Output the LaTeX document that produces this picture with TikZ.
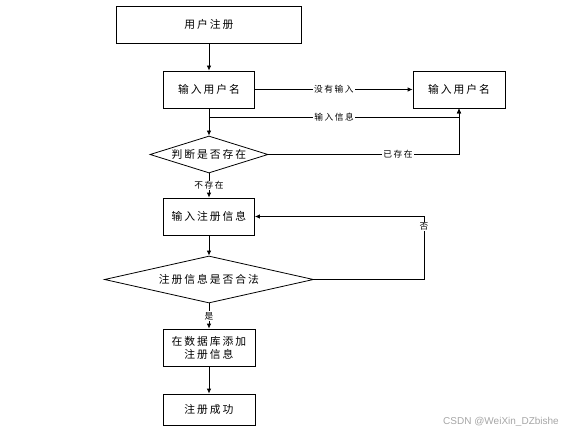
\documentclass[tikz,border=0pt]{standalone}
\usepackage{fontspec}
\newfontfamily\cjk[LetterSpace=18]{Noto Sans CJK SC}
\newfontfamily\wmfont{Liberation Sans}
\usetikzlibrary{arrows.meta,shapes.geometric}

\begin{document}
\begin{tikzpicture}[
  x=1pt, y=-1pt,
  font=\cjk\fontsize{10.8}{13}\selectfont,
  >={Latex[length=5pt,width=4.5pt]},
  % connectors
  flow/.style={draw=black, line width=0.8pt, ->},
  % boxes
  stepbox/.style={draw=black, line width=0.8pt, fill=white,
                  minimum width=91pt, minimum height=37pt,
                  align=center, inner sep=2pt},
  decide/.style={draw=black, line width=0.8pt, fill=white, diamond,
                 aspect=3.2, inner sep=0pt, align=center},
  % edge labels
  elabel/.style={fill=white, inner sep=1pt,
                 font=\cjk\fontsize{8.7}{10}\selectfont},
]
\useasboundingbox (0,0) rectangle (565,441);

% ── Boxes ────────────────────────────────────────────────────────────────
\node[stepbox, minimum width=185pt] (start)  at (209,24.5)  {用户注册};
\node[stepbox] (inname)  at (209,89.5)  {输入用户名};
\node[stepbox, minimum width=92pt] (reenter) at (459,89.5) {输入用户名};
\node[decide, minimum width=118pt, minimum height=37pt] (exists) at (209,154.5)
  {判断是否存在};
\node[stepbox] (ininfo)  at (209,216.5) {输入注册信息};
\node[decide, aspect=4.4, minimum width=209pt, minimum height=47pt] (valid)
  at (209,279.5) {注册信息是否合法};
\node[stepbox, minimum width=92pt] (adddb) at (209,347.5)
  {在数据库添加\\注册信息};
\node[stepbox, minimum width=92pt, minimum height=31pt] (done) at (209,409.5)
  {注册成功};

\coordinate (split) at (209,117);

% ── Connectors ───────────────────────────────────────────────────────────
\draw[flow] (start) -- (inname);
\draw[flow] (inname) -- node[elabel] {没有输入} (reenter);
\draw[flow] (inname) -- (exists);
\draw[flow] (split) -- node[elabel] {输入信息} (split -| reenter)
  -- (reenter.south);
\draw[flow] (exists.east) -| node[elabel, pos=0.34] {已存在} (reenter.south);
\draw[flow] (exists) -- node[elabel] {不存在} (ininfo);
\draw[flow] (ininfo) -- (valid);
\draw[flow] (valid.east) -- ++(110,0) |- node[elabel, pos=0.42] {否}
  (ininfo.east);
\draw[flow] (valid) -- node[elabel] {是} (adddb);
\draw[flow] (adddb) -- (done);

% ── Watermark ────────────────────────────────────────────────────────────
\node[text=black!35, font=\wmfont\fontsize{10}{12}\selectfont, inner sep=0pt]
  (mark) at (501,422) {CSDN @WeiXin\_DZbishe};

\end{tikzpicture}
\end{document}
